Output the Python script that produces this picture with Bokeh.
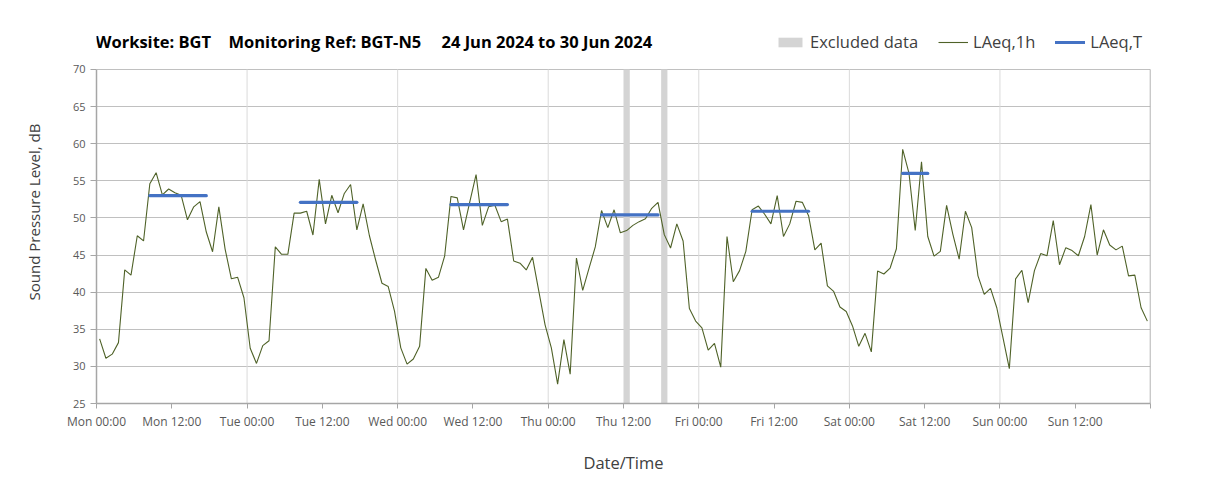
from bokeh.plotting import figure
from bokeh.models import Range1d, FixedTicker, Label, Legend, LegendItem
from bokeh.embed import file_html
from bokeh.resources import INLINE

# ---------------- data ----------------
tick_hours = list(range(0, 169, 12))
tick_labels = ["Mon 00:00", "Mon 12:00", "Tue 00:00", "Tue 12:00", "Wed 00:00", "Wed 12:00",
               "Thu 00:00", "Thu 12:00", "Fri 00:00", "Fri 12:00", "Sat 00:00", "Sat 12:00",
               "Sun 00:00", "Sun 12:00", ""]
day_boundaries = [24, 48, 72, 96, 120, 144, 168]
y_ticks = [25, 30, 35, 40, 45, 50, 55, 60, 65, 70]

laeq_mon = [33.7, 31.1, 31.65, 33.2, 43.0, 42.3, 47.6, 46.9, 54.6, 56.1, 53.1, 53.9,
            53.4, 53.05, 49.75, 51.5, 52.2, 48.1, 45.45, 51.5, 45.8, 41.8, 42.0, 39.25]
laeq_tue = [32.45, 30.4, 32.8, 33.45, 46.1, 45.1, 45.1, 50.65, 50.65, 50.9, 47.7, 55.2,
            49.2, 53.05, 50.7, 53.3, 54.5, 48.4, 51.9, 47.6, 44.3, 41.2, 40.75, 37.45]
laeq_wed = [32.5, 30.3, 31.0, 32.7, 43.2, 41.6, 42.0, 44.9, 52.9, 52.7, 48.4, 52.15,
            55.85, 49.0, 51.5, 51.7, 49.5, 49.85, 44.2, 43.9, 43.0, 44.7, 40.15, 35.6]
laeq_thu = [32.5, 27.6, 33.6, 28.95, 44.6, 40.25, 43.2, 46.1, 51.0, 48.7, 51.1, 48.0,
            48.3, 49.0, 49.5, 49.9, 51.3, 52.1, 47.75, 45.95, 49.2, 46.9, 37.8, 36.1]
laeq_fri = [35.2, 32.2, 33.1, 29.9, 47.5, 41.4, 42.9, 45.5, 51.1, 51.6, 50.5, 49.2,
            53.0, 47.5, 49.2, 52.25, 52.1, 50.3, 45.7, 46.6, 40.85, 40.1, 38.0, 37.4]
laeq_sat = [35.45, 32.7, 34.45, 31.95, 42.85, 42.45, 43.25, 45.85, 59.25, 56.05, 48.3, 57.55,
            47.5, 44.85, 45.5, 51.7, 47.8, 44.45, 50.9, 48.7, 42.2, 39.7, 40.5, 37.9]
laeq_sun = [33.8, 29.7, 41.8, 42.95, 38.6, 42.9, 45.2, 44.9, 49.65, 43.7, 46.0, 45.6,
            44.9, 47.5, 51.8, 45.0, 48.4, 46.35, 45.7, 46.2, 42.2, 42.3, 37.9, 36.1]

laeq_1h = laeq_mon + laeq_tue + laeq_wed + laeq_thu + laeq_fri + laeq_sat + laeq_sun
hours = [i + 0.5 for i in range(len(laeq_1h))]

# LAeq,T periods (hour boundaries) and values
lt_start = [8, 32, 56, 80, 104, 128]
lt_end = [18, 42, 66, 90, 114, 133]
lt_value = [53.0, 52.1, 51.8, 50.4, 50.9, 56.0]

# Excluded data periods (hours)
excl_start = [84, 90]
excl_end = [85, 91]

y_min, y_max = 25, 70
x_min, x_max = 0, 168

# ---------------- figure ----------------
FONT = "Open Sans"
y_view_top = 76.6  # extra headroom inside the frame for the title / legend row
p = figure(width=1200, height=485, x_range=Range1d(x_min, x_max),
           y_range=Range1d(y_min, y_view_top),
           output_backend="svg", toolbar_location=None,
           min_border_left=96, min_border_right=50, min_border_top=20, min_border_bottom=82)
p.background_fill_color = "white"
p.border_fill_color = "white"
p.outline_line_color = None

# day gridlines and right-hand plot border (only within the value range)
p.segment(x0=day_boundaries, x1=day_boundaries, y0=[y_min] * len(day_boundaries),
          y1=[y_max] * len(day_boundaries), line_color="#dadada", line_width=1)
p.segment(x0=[x_max], x1=[x_max], y0=[y_min], y1=[y_max], line_color="#a6a6a6", line_width=1.5)

excl_r = p.quad(left=excl_start, right=excl_end, bottom=[y_min] * len(excl_start),
                top=[y_max] * len(excl_start), fill_color="#d4d4d4", line_color=None)
line_r = p.line(hours, laeq_1h, line_color="#4f6228", line_width=1.1)
lt_r = p.segment(x0=[s + 0.5 for s in lt_start], x1=[e - 0.5 for e in lt_end],
                 y0=lt_value, y1=lt_value, line_color="#4472c4", line_width=3.2,
                 line_cap="round")

# axes
p.xaxis.ticker = FixedTicker(ticks=tick_hours)
p.xaxis.major_label_overrides = {h: l for h, l in zip(tick_hours, tick_labels)}
p.yaxis.ticker = FixedTicker(ticks=y_ticks)
p.yaxis.bounds = (y_min, y_max)
p.xaxis.minor_tick_line_color = None
p.yaxis.minor_tick_line_color = None
for ax in (p.xaxis, p.yaxis):
    ax.axis_line_color = "#a6a6a6"
    ax.axis_line_width = 1.5
    ax.major_tick_line_color = "#a6a6a6"
    ax.major_tick_in = 0
    ax.major_label_text_font = FONT
    ax.major_label_text_color = "#595959"
    ax.axis_label_text_font = FONT
    ax.axis_label_text_font_style = "normal"
    ax.axis_label_text_color = "#404040"
p.xaxis.major_label_text_font_size = "12px"
p.yaxis.major_label_text_font_size = "11px"
p.xaxis.axis_label_text_font_size = "16.5px"
p.yaxis.axis_label_text_font_size = "15px"
p.xaxis.major_tick_out = 5
p.yaxis.major_tick_out = 6
p.xaxis.major_label_standoff = 4
p.yaxis.major_label_standoff = 5
p.xaxis.axis_label = "Date/Time"
p.yaxis.axis_label = "Sound Pressure Level, dB"
p.xaxis.axis_label_standoff = 18
p.yaxis.axis_label_standoff = 26

p.ygrid.grid_line_color = "#c0c0c0"
p.xgrid.grid_line_color = None

# title parts
title_parts = ["Worksite: BGT", "Monitoring Ref: BGT-N5", "24 Jun 2024 to 30 Jun 2024"]
title_x = [-1, 132, 345]
for t, x in zip(title_parts, title_x):
    p.add_layout(Label(x=x, y=362, x_units="screen", y_units="screen", text=t,
                       text_font=FONT, text_font_size="16.5px", text_font_style="bold",
                       text_color="#000000", text_baseline="middle", text_align="left"))

legend = Legend(items=[LegendItem(label="Excluded data", renderers=[excl_r]),
                       LegendItem(label="LAeq,1h", renderers=[line_r]),
                       LegendItem(label="LAeq,T", renderers=[lt_r])],
                orientation="horizontal", location=(679, 350),
                border_line_color=None, background_fill_alpha=0, padding=0, margin=0,
                spacing=20, glyph_width=30, glyph_height=12, label_standoff=5,
                label_text_font=FONT, label_text_font_size="16.5px", label_text_color="#404040")
p.add_layout(legend)

open("out.html", "w").write(file_html(p, INLINE))
